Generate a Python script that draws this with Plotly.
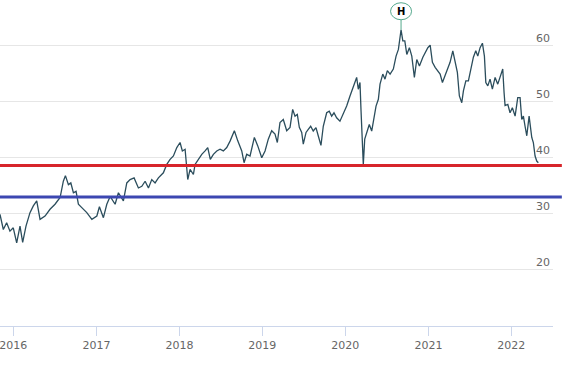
import datetime as dt
import plotly.graph_objects as go

# ---- data ----
years = [
    2015.840, 2015.880, 2015.920, 2015.960, 2016.000, 2016.041, 2016.081, 2016.113, 2016.153,
    2016.201, 2016.241, 2016.282, 2016.322, 2016.382, 2016.442, 2016.502, 2016.563, 2016.602,
    2016.627, 2016.663, 2016.692, 2016.723, 2016.755, 2016.783, 2016.824, 2016.884, 2016.945,
    2017.005, 2017.036, 2017.084, 2017.125, 2017.165, 2017.225, 2017.265, 2017.325, 2017.366,
    2017.406, 2017.454, 2017.506, 2017.547,
    2017.587, 2017.627, 2017.667, 2017.707, 2017.747, 2017.807, 2017.848, 2017.888, 2017.928,
    2017.969, 2018.008, 2018.036, 2018.069, 2018.101, 2018.129, 2018.169, 2018.189, 2018.229,
    2018.270, 2018.310, 2018.342, 2018.373, 2018.410, 2018.451, 2018.490, 2018.530, 2018.571,
    2018.611, 2018.663, 2018.704, 2018.752, 2018.780, 2018.812, 2018.852, 2018.904, 2018.945,
    2018.993, 2019.033, 2019.072, 2019.113, 2019.153, 2019.181, 2019.213, 2019.253, 2019.294,
    2019.334,
    2019.366, 2019.394, 2019.422, 2019.446, 2019.475, 2019.494, 2019.527, 2019.554, 2019.583,
    2019.614, 2019.647, 2019.675, 2019.707, 2019.735, 2019.776, 2019.807, 2019.836, 2019.864,
    2019.896, 2019.936, 2019.976, 2020.017, 2020.057, 2020.096, 2020.137, 2020.157, 2020.177,
    2020.189, 2020.205, 2020.217, 2020.234, 2020.258, 2020.289, 2020.318, 2020.346, 2020.370,
    2020.398, 2020.418, 2020.451, 2020.478, 2020.506, 2020.539, 2020.578, 2020.611, 2020.639,
    2020.671, 2020.692, 2020.716, 2020.740, 2020.771, 2020.800, 2020.831, 2020.860, 2020.892,
    2020.933,
    2020.961, 2020.993, 2021.021, 2021.048, 2021.081, 2021.113, 2021.141, 2021.169, 2021.201,
    2021.234, 2021.261, 2021.294, 2021.322, 2021.349, 2021.373, 2021.402, 2021.422, 2021.451,
    2021.482, 2021.511, 2021.542, 2021.571, 2021.595, 2021.623, 2021.651, 2021.675, 2021.692,
    2021.716, 2021.743, 2021.771, 2021.804, 2021.836, 2021.864, 2021.896, 2021.912, 2021.924,
    2021.957, 2021.984, 2022.012, 2022.045, 2022.077, 2022.105, 2022.125, 2022.145, 2022.165,
    2022.186, 2022.214, 2022.246, 2022.265, 2022.286, 2022.306, 2022.325,
]
prices = [
    29.9, 27.2, 28.4, 26.9, 27.5, 24.8, 27.8, 24.9, 27.8,
    30.2, 31.4, 32.3, 29.0, 29.6, 30.8, 31.7, 32.9, 35.8,
    36.8, 35.2, 35.5, 33.75, 34.0, 31.7, 31.1, 30.2, 29.0,
    29.6, 31.25, 29.3, 31.7, 33.1, 31.7, 33.75, 32.3, 35.5,
    36.1, 36.4, 34.6, 34.9,
    35.8, 34.6, 36.1, 35.5, 36.4, 37.3, 38.8, 39.7, 40.3,
    41.8, 42.7, 41.2, 41.5, 36.1, 37.9, 37.0, 38.8, 39.7,
    40.6, 41.2, 41.8, 39.7, 40.6, 41.2, 41.5, 41.2, 41.8,
    42.95, 44.8, 43.0, 41.2, 39.1, 40.6, 40.3, 43.6, 42.1,
    40.0, 41.2, 43.3, 44.8, 44.2, 42.7, 46.25, 46.8, 44.8,
    45.4,
    48.6, 47.4, 47.7, 45.4, 44.5, 42.4, 44.5, 45.05, 45.6,
    44.75, 45.35, 43.86, 42.2, 45.6, 48.0, 48.3, 47.4, 48.0,
    47.1, 46.5, 47.7, 49.2, 51.0, 52.5, 54.3, 52.2, 53.4,
    48.6, 42.7, 38.8, 43.3, 44.5, 45.9, 44.75, 46.8, 49.2,
    50.4, 53.1, 54.9, 54.0, 55.5, 54.9, 55.8, 58.1, 59.3,
    62.8, 60.8, 60.8, 58.4, 59.6, 58.1, 54.3, 57.5, 56.35,
    57.9,
    58.75, 59.6, 60.05, 57.0, 56.1, 55.5, 54.9, 53.4, 54.6,
    56.1, 57.0, 59.05, 57.0, 55.2, 51.0, 49.8, 51.9, 53.7,
    53.7, 55.5, 57.9, 59.05, 58.1, 59.6, 60.4, 58.1, 53.4,
    52.8, 54.0, 52.2, 54.3, 53.1, 54.3, 55.8, 51.6, 49.3,
    49.5, 48.0, 48.9, 47.4, 50.7, 50.7, 46.8, 47.4, 45.6,
    43.9, 47.4, 43.6, 42.7, 40.3, 39.4, 39.1,
]
resistance_level = 38.6
support_level = 33.0
y_ticks = [20, 30, 40, 50, 60]
flag_text = "H"


def to_date(y):
    yr = int(y)
    start = dt.datetime(yr, 1, 1)
    days = (dt.datetime(yr + 1, 1, 1) - start).days
    return start + dt.timedelta(days=(y - yr) * days)


dates = [to_date(y) for y in years]
peak_i = max(range(len(prices)), key=lambda i: prices[i])
peak_date = dates[peak_i]
peak_val = prices[peak_i]

LINE = "#2b4d5c"
FONT = "DejaVu Sans"

fig = go.Figure()
fig.add_trace(go.Scatter(
    x=dates, y=prices, mode="lines",
    line=dict(color=LINE, width=1.3),
    hoverinfo="skip", showlegend=False,
))

shapes = [
    dict(type="line", xref="paper", x0=0, x1=1.016, yref="y",
         y0=resistance_level, y1=resistance_level,
         line=dict(color="#d7252b", width=3), layer="above"),
    dict(type="line", xref="paper", x0=0, x1=1.016, yref="y",
         y0=support_level, y1=support_level,
         line=dict(color="#3c47b1", width=3), layer="above"),
    # flag stem
    dict(type="line", xref="x", yref="y", xsizemode="pixel", ysizemode="pixel",
         xanchor=peak_date, yanchor=peak_val, x0=0, x1=0, y0=0, y1=10,
         line=dict(color="#55a98d", width=1), layer="above"),
    # flag circle
    dict(type="circle", xref="x", yref="y", xsizemode="pixel", ysizemode="pixel",
         xanchor=peak_date, yanchor=peak_val, x0=-10.5, x1=10.5, y0=10, y1=27,
         line=dict(color="#55a98d", width=1), fillcolor="white", layer="above"),
]

fig.update_layout(
    width=568, height=369,
    margin=dict(l=0, r=15, t=0, b=43, autoexpand=False),
    paper_bgcolor="white", plot_bgcolor="white",
    font=dict(family=FONT, size=11, color="#666666"),
    shapes=shapes,
    annotations=[dict(
        x=peak_date, y=peak_val, xref="x", yref="y", text="<b>%s</b>" % flag_text,
        showarrow=False, yshift=18.5, font=dict(family=FONT, size=10, color="black"),
    )],
    xaxis=dict(
        type="date",
        range=[to_date(2015.840), to_date(2022.502)],
        dtick="M12", tickformat="%Y",
        showgrid=False, zeroline=False, automargin=False,
        showline=True, linecolor="#ccd6eb", linewidth=1,
        ticks="outside", ticklen=9, tickcolor="#ccd6eb", tickwidth=1,
        ticklabeloverflow="allow",
        tickfont=dict(family=FONT, size=11, color="#666666"),
    ),
    yaxis=dict(
        side="right", range=[10, 68.1], automargin=False,
        tickvals=y_ticks, ticktext=[str(v) for v in y_ticks],
        ticklabelposition="inside top",
        showgrid=True, gridcolor="#e6e6e6", gridwidth=1,
        zeroline=False, showline=False, ticks="",
        tickfont=dict(family=FONT, size=11, color="#666666"),
    ),
)

fig.write_html(
    "out.html",
    config={"displayModeBar": False},
    post_script="document.body.style.margin='0';document.body.style.padding='0';",
)
